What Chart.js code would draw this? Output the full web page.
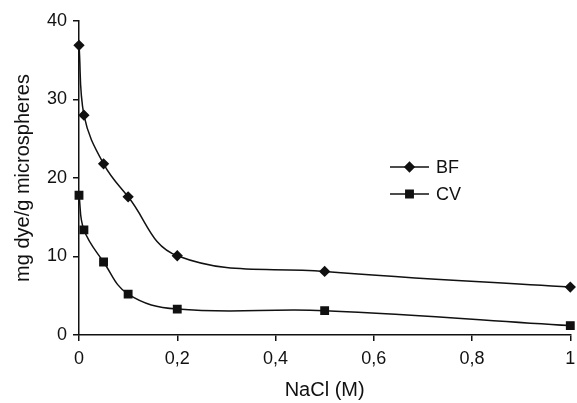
<!DOCTYPE html>
<html>
<head>
<meta charset="utf-8">
<script src="https://cdn.jsdelivr.net/npm/chart.js@4/dist/chart.umd.min.js"></script>
<style>
  html, body { margin: 0; padding: 0; background: #fff; }
  #wrap { width: 577px; height: 403px; }
</style>
</head>
<body>
<div id="wrap"><canvas id="sorption"></canvas></div>
<script>
// NaCl concentration (M) and dye uptake per series
const nacl = [0, 0.01, 0.05, 0.1, 0.2, 0.5, 1];
const bfValues = [36.9, 28.0, 21.8, 17.6, 10.1, 8.1, 6.1];
const cvValues = [17.8, 13.4, 9.3, 5.2, 3.3, 3.1, 1.2];
const xTicks = [0, 0.2, 0.4, 0.6, 0.8, 1];
const yTicks = [0, 10, 20, 30, 40];

const ink = '#111';
const fontFamily = 'Arial, "Liberation Sans", sans-serif';

function toPoints(values) {
    return nacl.map((x, i) => ({ x: x, y: values[i] }));
}

function formatComma(value) {
    if (value === 0 || value === 1) return String(value);
    return value.toFixed(1).replace('.', ',');
}

// Legend drawn as line + marker + label, like the classic spreadsheet style
const sideLegend = {
    id: 'sideLegend',
    afterDraw(chart) {
        const ctx = chart.ctx;
        const rows = [{ y: 167 }, { y: 194 }];
        chart.data.datasets.forEach((ds, i) => {
            const y = rows[i].y;
            ctx.save();
            ctx.strokeStyle = ink;
            ctx.lineWidth = 1.5;
            ctx.beginPath();
            ctx.moveTo(390, y);
            ctx.lineTo(429, y);
            ctx.stroke();
            Chart.helpers.drawPoint(ctx, {
                pointStyle: ds.pointStyle,
                radius: ds.pointRadius,
                borderWidth: 1
            }, 409.5, y);
            ctx.fillStyle = ink;
            ctx.font = '18px ' + fontFamily;
            ctx.textBaseline = 'middle';
            ctx.fillText(ds.label, 436, y + 1);
            ctx.restore();
        });
    }
};

new Chart(document.getElementById('sorption'), {
    type: 'line',
    data: {
        datasets: [
            {
                label: 'BF',
                data: toPoints(bfValues),
                pointStyle: 'rectRot',
                pointRadius: 4.6,
                borderColor: ink,
                backgroundColor: ink,
                pointBackgroundColor: ink,
                pointBorderColor: ink,
                borderWidth: 1.5,
                tension: 0.4,
                clip: false
            },
            {
                label: 'CV',
                data: toPoints(cvValues),
                pointStyle: 'rect',
                pointRadius: 5.2,
                borderColor: ink,
                backgroundColor: ink,
                pointBackgroundColor: ink,
                pointBorderColor: ink,
                borderWidth: 1.5,
                tension: 0.4,
                clip: false
            }
        ]
    },
    options: {
        responsive: true,
        maintainAspectRatio: false,
        animation: false,
        layout: { padding: { top: 21, right: 6, left: 0, bottom: 0 } },
        plugins: {
            legend: { display: false },
            tooltip: { enabled: false }
        },
        scales: {
            x: {
                type: 'linear',
                min: 0,
                max: 1,
                afterBuildTicks: scale => { scale.ticks = xTicks.map(v => ({ value: v })); },
                afterFit: scale => {
                    scale.height = 68;
                    // keep the "1" label from pulling the plot edge inwards
                    scale.paddingRight = 0;
                    scale.paddingLeft = 0;
                },
                border: { color: ink, width: 1.5 },
                grid: { drawOnChartArea: false, drawTicks: true, tickLength: 6, color: ink, lineWidth: 1.5 },
                ticks: {
                    color: ink,
                    padding: 7,
                    font: { size: 18, family: fontFamily },
                    callback: v => formatComma(v)
                },
                title: {
                    display: true,
                    text: 'NaCl (M)',
                    color: ink,
                    font: { size: 20, family: fontFamily },
                    padding: { top: 0, bottom: 1 }
                }
            },
            y: {
                min: 0,
                max: 40,
                afterBuildTicks: scale => { scale.ticks = yTicks.map(v => ({ value: v })); },
                afterFit: scale => {
                    scale.width = 79;
                    scale.paddingTop = 0;
                    scale.paddingBottom = 0;
                },
                border: { color: ink, width: 1.5 },
                grid: { drawOnChartArea: false, drawTicks: true, tickLength: 6, color: ink, lineWidth: 1.5 },
                ticks: {
                    color: ink,
                    padding: 6,
                    font: { size: 18, family: fontFamily }
                },
                title: {
                    display: true,
                    text: 'mg dye/g microspheres',
                    color: ink,
                    font: { size: 20, family: fontFamily },
                    padding: { top: 11, bottom: 0 }
                }
            }
        }
    },
    plugins: [sideLegend]
});
</script>
</body>
</html>
